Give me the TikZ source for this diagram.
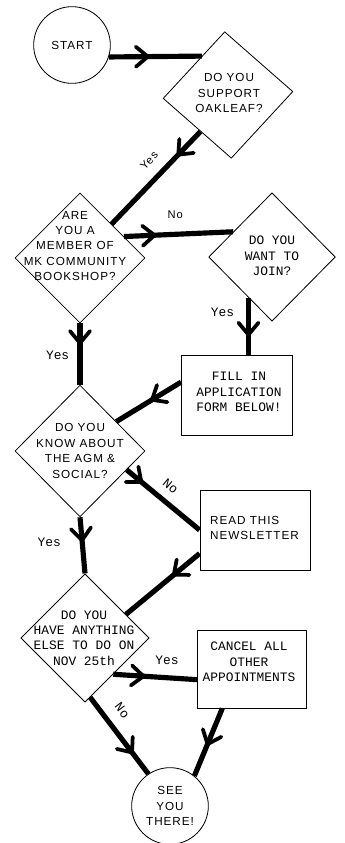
\documentclass[tikz,border=0pt]{standalone}
\usepackage{fontspec}
\usepackage{tikz}
\usetikzlibrary{shapes.geometric, decorations.markings, positioning}
\newfontfamily\flowsans{Liberation Sans}[LetterSpace=8]
\newfontfamily\flowtype{Liberation Mono}

\begin{document}
\begin{tikzpicture}[x=0.03cm, y=0.03cm,
  term/.style={circle, draw, line width=0.7pt, minimum size=2.3cm, inner sep=0pt,
    font=\flowsans\fontsize{10pt}{13.2pt}\selectfont, align=center},
  quest/.style={diamond, draw, line width=0.7pt, inner sep=0pt,
    minimum width=3.9cm, minimum height=3.9cm},
  act/.style={rectangle, draw, line width=0.7pt, inner sep=0pt,
    minimum width=3.3cm, minimum height=2.4cm},
  qsans/.style={align=center, inner sep=0pt,
    font=\flowsans\fontsize{10pt}{13.2pt}\selectfont},
  qtype/.style={align=center, inner sep=0pt,
    font=\flowtype\fontsize{11pt}{13.2pt}\selectfont},
  lbls/.style={inner sep=0pt, font=\flowsans\fontsize{9.5pt}{11pt}\selectfont},
  lbl/.style={inner sep=0pt, font=\flowtype\fontsize{11pt}{12pt}\selectfont},
  flow/.style={line width=4.4pt},
  midarr/.style={postaction={decorate, decoration={markings,
    mark=at position #1 with {\draw[line width=3.2pt, line cap=round]
      (-12,10) -- (0,0) -- (-12,-10);}}}}
]
\useasboundingbox (0,0) rectangle (345,-843);
% Terminals
\node[term] at (72,-45) (start) {START};
\node[term] at (170,-806) (see) {SEE\\YOU\\THERE!};
% Questions
\node[quest, rotate=3, minimum height=3.8cm] at (228,-95) (oak) {};
\node[qsans] at (229,-93) (oak-txt) {DO YOU\\SUPPORT\\OAKLEAF?};
\node[quest] at (80,-258) (member) {};
\node[qsans] at (75,-246) (member-txt) {ARE\\YOU A\\MEMBER OF\\MK COMMUNITY\\BOOKSHOP?};
\node[quest, minimum width=3.8cm, minimum height=3.85cm] at (272,-257) (join) {};
\node[qtype] at (272,-256) (join-txt) {DO YOU\\WANT TO\\JOIN?};
\node[quest, minimum height=3.95cm] at (80,-451) (agm) {};
\node[qsans] at (80,-451) (agm-txt) {DO YOU\\KNOW ABOUT\\THE AGM \&\\SOCIAL?};
\node[quest, minimum width=3.85cm, minimum height=3.85cm] at (85,-638) (have) {};
\node[qtype] at (84,-638) (have-txt) {DO YOU\\HAVE ANYTHING\\ELSE TO DO ON\\NOV 25th};
% Actions
\node[act, minimum width=3.33cm] at (237,-395) (fill) {};
\node[qtype] at (239,-392) (fill-txt) {FILL IN\\APPLICATION\\FORM BELOW!};
\node[act] at (255,-530) (news) {};
\node[qsans, align=left, anchor=west] at (210,-528) (news-txt) {READ THIS\\NEWSLETTER};
\node[act, minimum width=3.27cm, minimum height=2.34cm] at (252,-669) (cancel) {};
\node[qtype] at (249,-662) (cancel-txt) {CANCEL ALL\\OTHER\\APPOINTMENTS};
% Connectors
\draw[flow, midarr=0.42] (start.-18) -- (oak.121);
\draw[flow, midarr=0.25] (oak.230) -- (member.47)
  node[pos=0.44, sloped, above=9pt, lbls] (yes-oak) {Yes};
\draw[flow, midarr=0.28] (member.26) -- (join.147)
  node[pos=0.47, above=11pt, lbls] (no-member) {No};
\draw[flow, midarr=0.65] (join.240) -- (join.240 |- fill.north)
  node[pos=0.26, left=10pt, lbl] (yes-join) {Yes};
\draw[flow, midarr=0.32] (member.south) -- (agm.north)
  node[pos=0.52, left=7pt, lbl] (yes-member) {Yes};
\draw[flow, midarr=0.45] (fill.167) -- (agm.39);
\draw[flow, midarr=0.2] (agm.-22) -- (news.west)
  node[pos=0.47, sloped, above=7pt, lbl] (no-agm) {No};
\draw[flow, midarr=0.35] (news.203) -- (have.30);
\draw[flow, midarr=0.41] (agm.south) -- (have.north)
  node[pos=0.45, left=16pt, lbl] (yes-agm) {Yes};
\draw[flow, midarr=0.36] (have.-52) -- (cancel.191)
  node[pos=0.64, above=9pt, lbl] (yes-have) {Yes};
\draw[flow, midarr=0.72] (have.-85) -- (see.124)
  node[pos=0.31, sloped, above=9pt, lbl] (no-have) {No};
\draw[flow, midarr=0.53] (cancel.233) -- (see.51);
\end{tikzpicture}
\end{document}
